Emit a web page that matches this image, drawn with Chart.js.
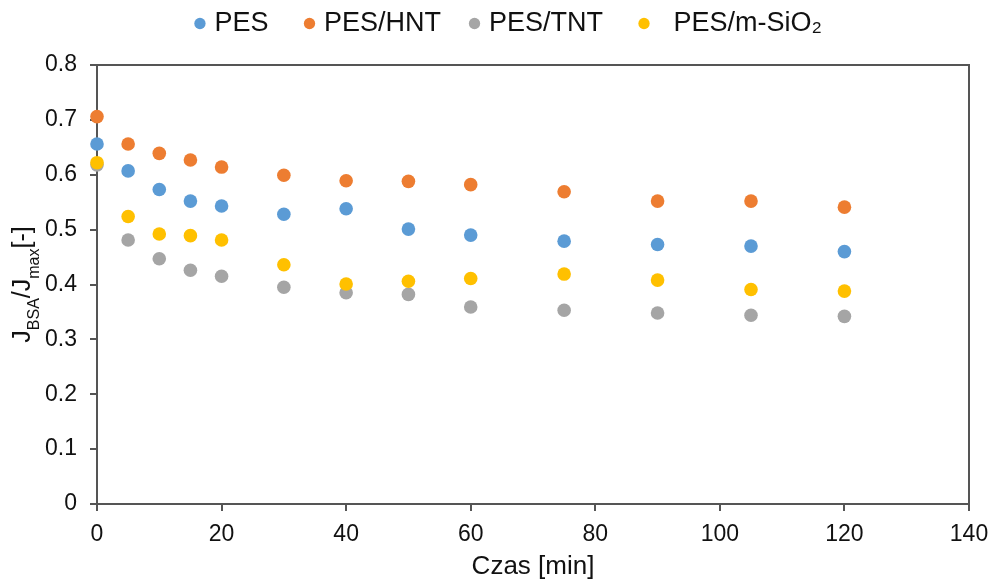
<!DOCTYPE html>
<html>
<head>
<meta charset="utf-8">
<script src="https://cdn.jsdelivr.net/npm/chart.js@4.4.0/dist/chart.umd.min.js"></script>
<style>
  html, body { margin: 0; padding: 0; background: #fff; }
  #wrap { width: 992px; height: 580px; }
</style>
</head>
<body>
<div id="wrap"><canvas id="chart" width="992" height="580"></canvas></div>
<script>
// data
const times = [0, 5, 10, 15, 20, 30, 40, 50, 60, 75, 90, 105, 120];
const pes   = [0.656, 0.607, 0.573, 0.552, 0.543, 0.528, 0.538, 0.501, 0.490, 0.479, 0.473, 0.470, 0.460];
const pesHnt = [0.706, 0.656, 0.639, 0.627, 0.614, 0.599, 0.589, 0.588, 0.582, 0.569, 0.552, 0.552, 0.541];
const pesTnt = [0.618, 0.481, 0.447, 0.426, 0.415, 0.395, 0.385, 0.382, 0.359, 0.353, 0.348, 0.344, 0.342];
const pesSio2 = [0.622, 0.524, 0.492, 0.489, 0.481, 0.436, 0.401, 0.406, 0.411, 0.419, 0.408, 0.391, 0.388];
// trailing / leading spaces only widen the legend gaps
const seriesNames = ["PES    ", "PES/HNT   ", "PES/TNT    ", "  PES/m-SiO\u2082      "];
const seriesColors = ["#5B9BD5", "#ED7D31", "#A5A5A5", "#FFC000"];

const FONT = "'Liberation Sans', Arial, sans-serif";
const AXIS = "#555555";

function points(values) {
  return times.map((t, i) => ({ x: t, y: values[i] }));
}

// stretch legend box so the plot starts lower
const legendSpace = {
  id: "legendSpace",
  beforeInit(chart) {
    const fit = chart.legend.fit;
    chart.legend.fit = function () {
      fit.call(this);
      this.height = 65;
    };
  }
};

// plot frame around the chart area
const frame = {
  id: "frame",
  beforeDatasetsDraw(chart) {
    const { ctx, chartArea: a } = chart;
    ctx.save();
    ctx.strokeStyle = AXIS;
    ctx.lineWidth = 2;
    ctx.strokeRect(a.left, a.top, a.right - a.left, a.bottom - a.top);
    ctx.restore();
  }
};

// y title with subscripts: J_BSA/J_max[-]
const yTitle = {
  id: "yTitle",
  afterDraw(chart) {
    const { ctx, chartArea: a } = chart;
    const parts = [
      ["J", 25, 0], ["BSA", 16, 9], ["/J", 25, 0], ["max", 16, 9], ["[-]", 25, 0]
    ];
    ctx.save();
    let total = 0;
    parts.forEach(p => {
      ctx.font = p[1] + "px " + FONT;
      total += ctx.measureText(p[0]).width;
    });
    ctx.translate(30, (a.top + a.bottom) / 2);
    ctx.rotate(-Math.PI / 2);
    ctx.fillStyle = "#111";
    ctx.textBaseline = "alphabetic";
    let x = -total / 2;
    parts.forEach(p => {
      ctx.font = p[1] + "px " + FONT;
      ctx.fillText(p[0], x, p[2]);
      x += ctx.measureText(p[0]).width;
    });
    ctx.restore();
  }
};

const datasets = [pes, pesHnt, pesTnt, pesSio2].map((vals, i) => ({
  label: seriesNames[i],
  data: points(vals),
  backgroundColor: seriesColors[i],
  borderWidth: 0,
  pointRadius: 6.8,
  pointHoverRadius: 6.8,
  order: 3 - i,
  clip: false
}));

new Chart(document.getElementById("chart"), {
  type: "scatter",
  data: { datasets },
  options: {
    responsive: false,
    animation: false,
    devicePixelRatio: 1,
    layout: { padding: { left: 20, right: 23, top: 0, bottom: 0 } },
    plugins: {
      legend: {
        position: "top",
        fullSize: false,
        labels: {
          usePointStyle: true,
          pointStyle: "circle",
          boxWidth: 2,
          boxHeight: 8,
          padding: 10,
          color: "#111",
          font: { family: FONT, size: 27 },
          sort: (a, b) => a.datasetIndex - b.datasetIndex
        }
      },
      tooltip: { enabled: false }
    },
    scales: {
      x: {
        type: "linear",
        min: 0,
        max: 140,
        border: { display: true, color: AXIS, width: 2 },
        grid: { drawOnChartArea: false, drawTicks: true, tickLength: 7, color: AXIS, lineWidth: 2 },
        ticks: { stepSize: 20, padding: 10, color: "#111", font: { family: FONT, size: 23 } },
        title: {
          display: true,
          text: "Czas [min]",
          color: "#111",
          font: { family: FONT, size: 26 },
          padding: { top: 0, bottom: -2 }
        },
        afterFit(scale) {
          scale.height = 76;
          scale.paddingRight = 0;
        }
      },
      y: {
        min: 0,
        max: 0.8,
        border: { display: true, color: AXIS, width: 2 },
        grid: { drawOnChartArea: false, drawTicks: true, tickLength: 7, color: AXIS, lineWidth: 2 },
        ticks: {
          stepSize: 0.1,
          padding: 13,
          color: "#111",
          font: { family: FONT, size: 23 },
          callback: v => (v === 0 ? "0" : v.toFixed(1))
        },
        afterFit(scale) { scale.width = 77; }
      }
    }
  },
  plugins: [legendSpace, frame, yTitle]
});
</script>
</body>
</html>
